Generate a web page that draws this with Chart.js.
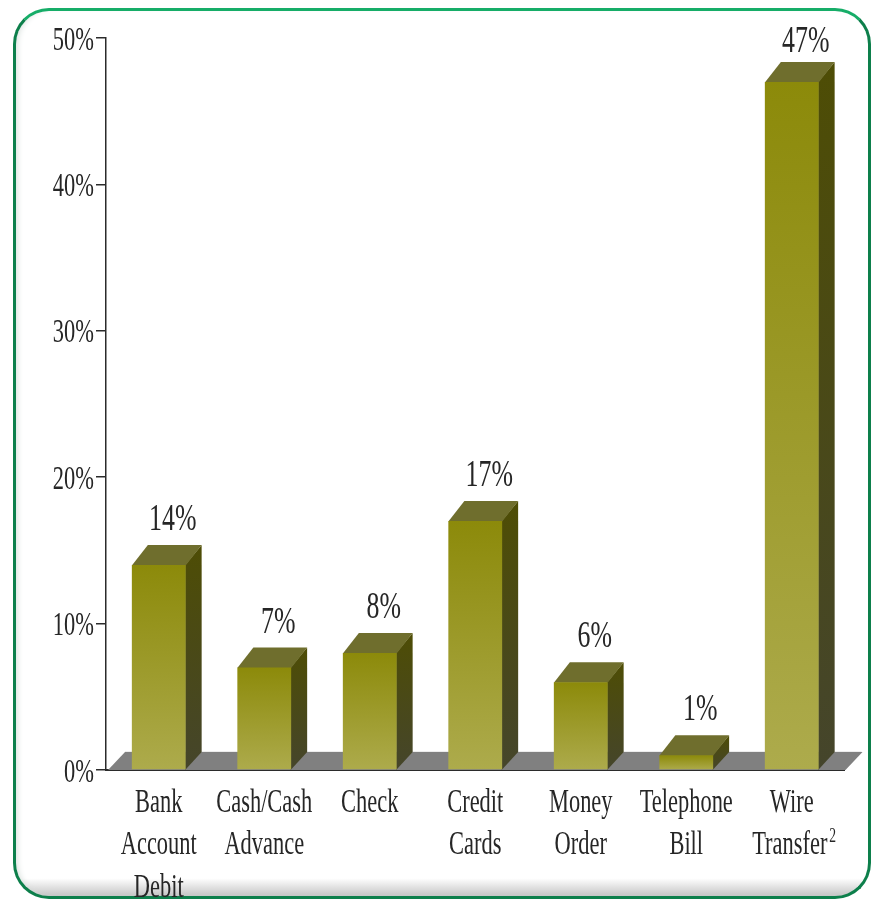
<!DOCTYPE html>
<html>
<head>
<meta charset="utf-8">
<style>
  html, body { margin: 0; padding: 0; background: #fff; overflow: hidden; }
  #wrap { position: relative; width: 875px; height: 900px; overflow: hidden; }
  #frame {
    position: absolute; left: 13px; top: 8px; width: 852px; height: 885px;
    border: 3px solid #0d7f4b; border-top-color: #16ad68; border-radius: 36px;
    background: linear-gradient(to bottom, #fff 0, #fff 98%, #c4c4c4 100%);
    box-shadow: inset 5px 0 6px -4px #d4dcd8;
  }
  #chart { position: absolute; left: 0; top: 0; filter: blur(0.6px); }
</style>
</head>
<body>
<div id="wrap">
  <div id="frame"></div>
  <canvas id="chart" width="875" height="900"></canvas>
</div>
<script src="https://cdn.jsdelivr.net/npm/chart.js@4"></script>
<script>
const categories = [
  ["Bank", "Account", "Debit"],
  ["Cash/Cash", "Advance"],
  ["Check"],
  ["Credit", "Cards"],
  ["Money", "Order"],
  ["Telephone", "Bill"],
  ["Wire", "Transfer²"]
];
const percentages = [14, 7, 8, 17, 6, 1, 47];
const yTicks = [0, 10, 20, 30, 40, 50];

const DX = 16, DY = 20;              // depth of the fake 3d
const FLOOR_DY = 18;
const TEXT = "#262626";
const SERIF = '"Liberation Serif", serif';
const SQUEEZE = 0.68;                // the reference text is narrow

function narrowText(ctx, text, x, y, align, size) {
  ctx.save();
  ctx.translate(x, y);
  ctx.scale(SQUEEZE, 1);
  ctx.font = size + "px " + SERIF;
  ctx.fillStyle = TEXT;
  ctx.textAlign = align;
  ctx.textBaseline = "middle";
  ctx.fillText(text, 0, 0);
  ctx.restore();
}

function poly(ctx, pts, fill) {
  ctx.beginPath();
  pts.forEach((p, i) => i ? ctx.lineTo(p[0], p[1]) : ctx.moveTo(p[0], p[1]));
  ctx.closePath();
  ctx.fillStyle = fill;
  ctx.fill();
}

const depthPlugin = {
  id: "depth",
  beforeDatasetsDraw(chart) {
    const ctx = chart.ctx;
    const { left, right, bottom } = chart.chartArea;

    // floor, with the faint line along its back edge
    poly(ctx, [[left + 2, bottom], [right + 1, bottom], [right + DX + 2, bottom - FLOOR_DY], [left + DX + 3, bottom - FLOOR_DY]], "#808080");
    ctx.fillStyle = "#ececec";
    ctx.fillRect(left + DX + 3, bottom - FLOOR_DY - 1, right - left - 2, 1);

    // side and top faces, the front faces are the real bars
    chart.getDatasetMeta(0).data.forEach(bar => {
      const r = bar.x + bar.width / 2, l = bar.x - bar.width / 2, t = bar.y;
      const side = ctx.createLinearGradient(0, t - DY, 0, bottom);
      side.addColorStop(0, "#4e4d05");
      side.addColorStop(1, "#45452b");
      poly(ctx, [[r - 0.5, t], [r + DX, t - DY], [r + DX, bottom - FLOOR_DY], [r - 0.5, bottom]], side);
      poly(ctx, [[l, t + 0.5], [l + DX, t - DY], [r + DX, t - DY], [r, t + 0.5]], "#6f6e2d");
    });
  },
  afterDatasetsDraw(chart) {
    const ctx = chart.ctx;
    const x = chart.scales.x, y = chart.scales.y;

    // value labels
    chart.getDatasetMeta(0).data.forEach((bar, i) => {
      const ly = Math.max(42, bar.y - DY - 25);
      narrowText(ctx, percentages[i] + "%", bar.x + 14, ly, "center", 38);
    });

    // y tick labels
    y.ticks.forEach(t => {
      narrowText(ctx, t.value + "%", 94, y.getPixelForValue(t.value) + 3, "right", 33);
    });

    // category labels, a trailing ² is set as a raised footnote mark
    categories.forEach((lines, i) => {
      lines.forEach((line, n) => {
        const cx = x.getPixelForValue(i), ly = 803 + n * 42.5;
        if (line.endsWith("²")) {
          const base = line.slice(0, -1);
          narrowText(ctx, base, cx - 2, ly, "center", 33);
          ctx.font = "33px " + SERIF;
          const half = ctx.measureText(base).width * SQUEEZE / 2;
          narrowText(ctx, "2", cx + half, ly - 9, "left", 20);
        } else {
          narrowText(ctx, line, cx, ly, "center", 33);
        }
      });
    });
  }
};

new Chart(document.getElementById("chart"), {
  type: "bar",
  data: {
    labels: categories,
    datasets: [{
      data: percentages,
      barPercentage: 0.51,
      categoryPercentage: 1,
      backgroundColor(c) {
        const chart = c.chart;
        if (!chart.chartArea || !c.parsed) return "#9c9a2a";
        const top = chart.scales.y.getPixelForValue(c.parsed.y);
        const g = chart.ctx.createLinearGradient(0, top, 0, chart.chartArea.bottom);
        g.addColorStop(0, "#8c8a0a");
        g.addColorStop(1, "#adab4c");
        return g;
      }
    }]
  },
  options: {
    responsive: false,
    animation: false,
    layout: { padding: { top: 38, right: 30.5, bottom: 0, left: 0 } },
    plugins: { legend: { display: false }, tooltip: { enabled: false } },
    scales: {
      x: {
        ticks: { display: false },
        grid: { drawOnChartArea: false, drawTicks: false },
        border: { color: "#2b2b2b", width: 2 },
        afterFit(s) { s.height = 130; }
      },
      y: {
        min: 0,
        max: 50,
        afterBuildTicks(s) { s.ticks = yTicks.map(value => ({ value })); },
        ticks: { display: false },
        grid: { drawOnChartArea: false, drawTicks: true, tickLength: 10, color: "#2b2b2b", lineWidth: 1.5 },
        border: { color: "#2b2b2b", width: 1.5 },
        afterFit(s) { s.width = 106; }
      }
    }
  },
  plugins: [depthPlugin]
});
</script>
</body>
</html>
